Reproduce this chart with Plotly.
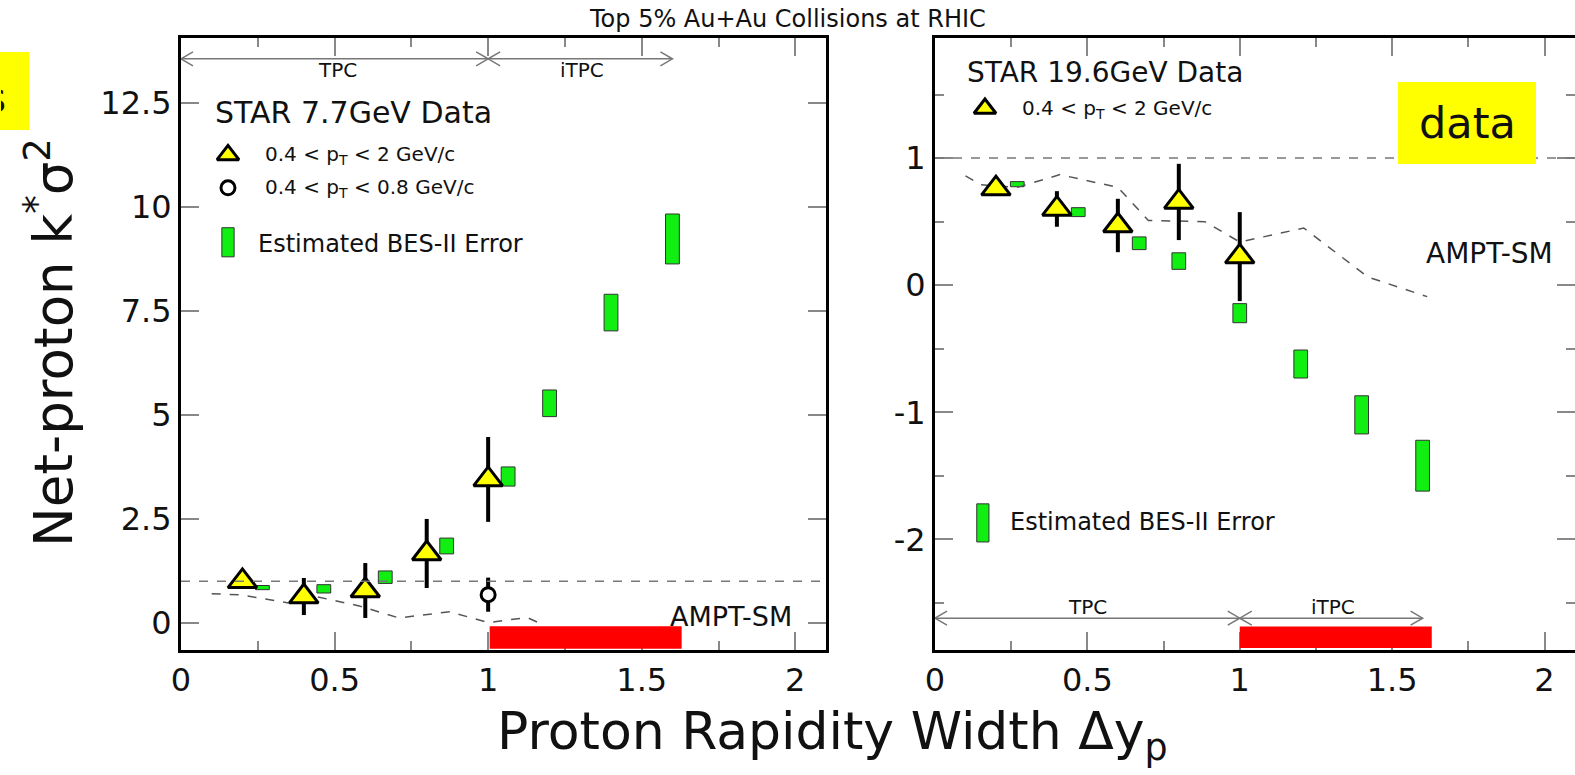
import plotly.graph_objects as go

# ---------------- data ----------------
# 7.7 GeV (left panel)
x_data = [0.2, 0.4, 0.6, 0.8, 1.0]
k77 = [1.0, 0.635, 0.78, 1.67, 3.45]
k77_err = [0.12, 0.445, 0.66, 0.83, 1.02]
x_lowpt = [1.0]
k77_lowpt = [0.68]
k77_lowpt_err = [0.41]
bes77_x = [0.265, 0.465, 0.665, 0.865, 1.065, 1.2, 1.4, 1.6]
bes77_c = [0.85, 0.82, 1.1, 1.85, 3.52, 5.28, 7.46, 9.23]
bes77_h = [0.05, 0.1, 0.15, 0.19, 0.23, 0.32, 0.44, 0.6]
ampt77_x = [0.1, 0.19, 0.35, 0.43, 0.58, 0.71, 0.875, 1.0, 1.127, 1.16]
ampt77_y = [0.70, 0.68, 0.48, 0.65, 0.41, 0.12, 0.27, 0.01, 0.13, 0.02]

# 19.6 GeV (right panel)
k196 = [0.76, 0.60, 0.47, 0.655, 0.225]
k196_err = [0.05, 0.14, 0.21, 0.30, 0.35]
bes196_x = [0.27, 0.47, 0.67, 0.8, 1.0, 1.2, 1.4, 1.6]
bes196_c = [0.795, 0.575, 0.33, 0.19, -0.22, -0.62, -1.02, -1.42]
bes196_h = [0.02, 0.035, 0.05, 0.065, 0.075, 0.11, 0.15, 0.2]
ampt196_x = [0.1, 0.15, 0.27, 0.41, 0.6, 0.7, 0.885, 1.0, 1.21, 1.42, 1.615]
ampt196_y = [0.86, 0.79, 0.77, 0.87, 0.77, 0.51, 0.50, 0.34, 0.45, 0.065, -0.09]

tpc_range = [0.0, 1.0]
itpc_range = [1.0, 1.6]
itpc_bar = [1.005, 1.63]

x_tickvals = [0, 0.5, 1, 1.5, 2]
x_ticktext = ["0", "0.5", "1", "1.5", "2"]
y1_tickvals = [0, 2.5, 5, 7.5, 10, 12.5]
y1_ticktext = ["0", "2.5", "5", "7.5", "10", "12.5"]
y2_tickvals = [-2, -1, 0, 1]
y2_ticktext = ["-2", "-1", "0", "1"]

# ---------------- style ----------------
FONT = "DejaVu Sans"
GREEN = "#11ee11"
YELLOW = "#ffff00"
W, H = 1575, 775

fig = go.Figure()


def add_panel(xa, ya, xs, ys, errs, bx, bc, bh, ax_, ay_):
    fig.add_trace(go.Scatter(
        x=ax_, y=ay_, mode="lines", xaxis=xa, yaxis=ya,
        line=dict(color="#555", width=1.5, dash="dash"), showlegend=False))
    fig.add_trace(go.Bar(
        x=bx, y=[2 * h for h in bh], base=[c - h for c, h in zip(bc, bh)],
        width=0.045, xaxis=xa, yaxis=ya,
        marker=dict(color=GREEN, line=dict(color="#333", width=1)), showlegend=False))
    fig.add_trace(go.Scatter(
        x=xs, y=ys, mode="markers", xaxis=xa, yaxis=ya,
        error_y=dict(type="data", array=errs, thickness=4, width=0, color="black"),
        marker=dict(symbol="triangle-up", size=25, color=YELLOW,
                    line=dict(color="black", width=3)), showlegend=False))


add_panel("x", "y", x_data, k77, k77_err, bes77_x, bes77_c, bes77_h, ampt77_x, ampt77_y)
fig.add_trace(go.Scatter(
    x=x_lowpt, y=k77_lowpt, mode="markers", xaxis="x", yaxis="y",
    error_y=dict(type="data", array=k77_lowpt_err, thickness=4, width=0, color="black"),
    marker=dict(symbol="circle", size=14, color="white", line=dict(color="black", width=3)),
    showlegend=False))
add_panel("x2", "y2", x_data, k196, k196_err, bes196_x, bes196_c, bes196_h, ampt196_x, ampt196_y)

# ---- legend keys (positions are layout, not data) ----
LEG = {
    "x": dict(tri=(0.153, 11.25), circ=(0.153, 10.46), bar=(0.153, 8.8, 9.5)),
    "x2": dict(tri=(0.164, 1.39), bar=(0.157, -2.02, -1.72)),
}
fig.add_trace(go.Scatter(x=[LEG["x"]["tri"][0]], y=[LEG["x"]["tri"][1]], mode="markers",
                         xaxis="x", yaxis="y", showlegend=False,
                         marker=dict(symbol="triangle-up", size=19, color=YELLOW,
                                     line=dict(color="black", width=3))))
fig.add_trace(go.Scatter(x=[LEG["x"]["circ"][0]], y=[LEG["x"]["circ"][1]], mode="markers",
                         xaxis="x", yaxis="y", showlegend=False,
                         marker=dict(symbol="circle", size=14, color="white",
                                     line=dict(color="black", width=3))))
fig.add_trace(go.Scatter(x=[LEG["x2"]["tri"][0]], y=[LEG["x2"]["tri"][1]], mode="markers",
                         xaxis="x2", yaxis="y2", showlegend=False,
                         marker=dict(symbol="triangle-up", size=19, color=YELLOW,
                                     line=dict(color="black", width=3))))

shapes = []
for xr, yr, key in (("x", "y", "x"), ("x2", "y2", "x2")):
    bx, b0, b1 = LEG[key]["bar"]
    shapes.append(dict(type="rect", xref=xr, yref=yr, x0=bx - 0.02, x1=bx + 0.02, y0=b0, y1=b1,
                       fillcolor=GREEN, line=dict(color="#333", width=1)))

# dashed reference line at 1
for xr, yr in (("x", "y"), ("x2", "y2")):
    shapes.append(dict(type="line", xref=xr, yref=yr, x0=0, x1=2.1, y0=1, y1=1,
                       line=dict(color="#777", width=1.5, dash="dash")))

# red iTPC bars
shapes.append(dict(type="rect", xref="x", yref="y", x0=itpc_bar[0], x1=itpc_bar[1],
                   y0=-0.62, y1=-0.08, fillcolor="#ff0000", line=dict(width=0)))
shapes.append(dict(type="rect", xref="x2", yref="y2", x0=1.0, x1=itpc_bar[1],
                   y0=-2.855, y1=-2.685, fillcolor="#ff0000", line=dict(width=0)))

# TPC / iTPC arrows
GRAY = "#777"


def arrows(xr, yr, yv):
    shapes.append(dict(type="line", xref=xr, yref=yr, x0=tpc_range[0], x1=itpc_range[1],
                       y0=yv, y1=yv, line=dict(color=GRAY, width=1.5)))
    for xa, d in ((tpc_range[0], 1), (tpc_range[1], -1), (itpc_range[0], 1), (itpc_range[1], -1)):
        shapes.append(dict(type="path", xref=xr, yref=yr, xsizemode="pixel", ysizemode="pixel",
                           xanchor=xa, yanchor=yv,
                           path=f"M{12*d},7 L0,0 L{12*d},-7",
                           line=dict(color=GRAY, width=1.5)))


arrows("x", "y", 13.56)
arrows("x2", "y2", -2.62)

# yellow boxes
shapes.append(dict(type="rect", xref="paper", yref="paper",
                   x0=1398 / W, x1=1536 / W, y0=1 - 164 / H, y1=1 - 82 / H,
                   fillcolor=YELLOW, line=dict(width=0), layer="above"))
shapes.append(dict(type="rect", xref="paper", yref="paper",
                   x0=0, x1=29 / W, y0=1 - 130 / H, y1=1 - 52 / H,
                   fillcolor=YELLOW, line=dict(width=0), layer="above"))

ann = []


def txt(x, y, s, size, xr="paper", yr="paper", xanchor="center", yanchor="middle", **kw):
    ann.append(dict(x=x, y=y, xref=xr, yref=yr, text=s, showarrow=False,
                    xanchor=xanchor, yanchor=yanchor,
                    font=dict(family=FONT, size=size, color="#111"), **kw))


txt(0.5, 1 - 19 / H, "Top 5% Au+Au Collisions at RHIC", 24)
txt(50 / W, 1 - 343 / H, "Net-proton k<sup>*</sup>σ<sup>2</sup>", 53, textangle=-90)
txt(832 / W, 1 - 735 / H, "Proton Rapidity Width Δy<sub>p</sub>", 52)
txt(1467 / W, 1 - 123 / H, "data", 43)
# clipped remnant of a slide label on the left edge
txt(0, 1 - 98 / H, "s", 40, xanchor="left", width=5, align="right", borderpad=0)

# left panel texts
txt(0.104, 12.26, "STAR 7.7GeV Data", 30, "x", "y", xanchor="left")
txt(0.267, 11.25, "0.4 < p<sub>T</sub> < 2 GeV/c", 20, "x", "y", xanchor="left")
txt(0.267, 10.46, "0.4 < p<sub>T</sub> < 0.8 GeV/c", 20, "x", "y", xanchor="left")
txt(0.244, 9.1, "Estimated BES-II Error", 24, "x", "y", xanchor="left")
txt(1.79, 0.15, "AMPT-SM", 27, "x", "y")
txt(0.51, 13.3, "TPC", 20, "x", "y")
txt(1.306, 13.3, "iTPC", 20, "x", "y")

# right panel texts
txt(0.098, 1.67, "STAR 19.6GeV Data", 28, "x2", "y2", xanchor="left")
txt(0.279, 1.39, "0.4 < p<sub>T</sub> < 2 GeV/c", 20, "x2", "y2", xanchor="left")
txt(0.24, -1.86, "Estimated BES-II Error", 24, "x2", "y2", xanchor="left")
txt(1.82, 0.25, "AMPT-SM", 28, "x2", "y2")
txt(0.5, -2.53, "TPC", 20, "x2", "y2")
txt(1.306, -2.53, "iTPC", 20, "x2", "y2")

axis_common = dict(showline=True, linewidth=3, linecolor="black", mirror="allticks",
                   ticks="inside", tickcolor="#888", tickwidth=2, ticklen=18,
                   showgrid=False, zeroline=False, automargin=False,
                   tickfont=dict(family=FONT, size=32, color="#111"))
xminor = dict(ticks="inside", dtick=0.25, tick0=0, ticklen=9, tickcolor="#888", tickwidth=2,
              showgrid=False)

fig.update_layout(
    width=W, height=H, margin=dict(l=0, r=0, t=0, b=0, autoexpand=False),
    paper_bgcolor="white", plot_bgcolor="white", barmode="overlay",
    showlegend=False,
    xaxis=dict(domain=[181 / W, 826 / W], range=[0, 2.1], anchor="y",
               tickmode="array", tickvals=x_tickvals, ticktext=x_ticktext,
               minor=xminor, **axis_common),
    yaxis=dict(domain=[1 - 650 / H, 1 - 38 / H], range=[-0.65, 14.06], anchor="x",
               tickmode="array", tickvals=y1_tickvals, ticktext=y1_ticktext, **axis_common),
    xaxis2=dict(domain=[935 / W, 1.0], range=[0, 2.1], anchor="y2",
                tickmode="array", tickvals=x_tickvals, ticktext=x_ticktext,
                minor=xminor, **axis_common),
    yaxis2=dict(domain=[1 - 650 / H, 1 - 38 / H], range=[-2.87, 1.945], anchor="x2",
                tickmode="array", tickvals=y2_tickvals, ticktext=y2_ticktext,
                minor=dict(ticks="inside", dtick=0.5, tick0=0, ticklen=9, tickcolor="#888",
                           tickwidth=2, showgrid=False),
                **axis_common),
    shapes=shapes, annotations=ann,
)

fig.write_html("out.html")
